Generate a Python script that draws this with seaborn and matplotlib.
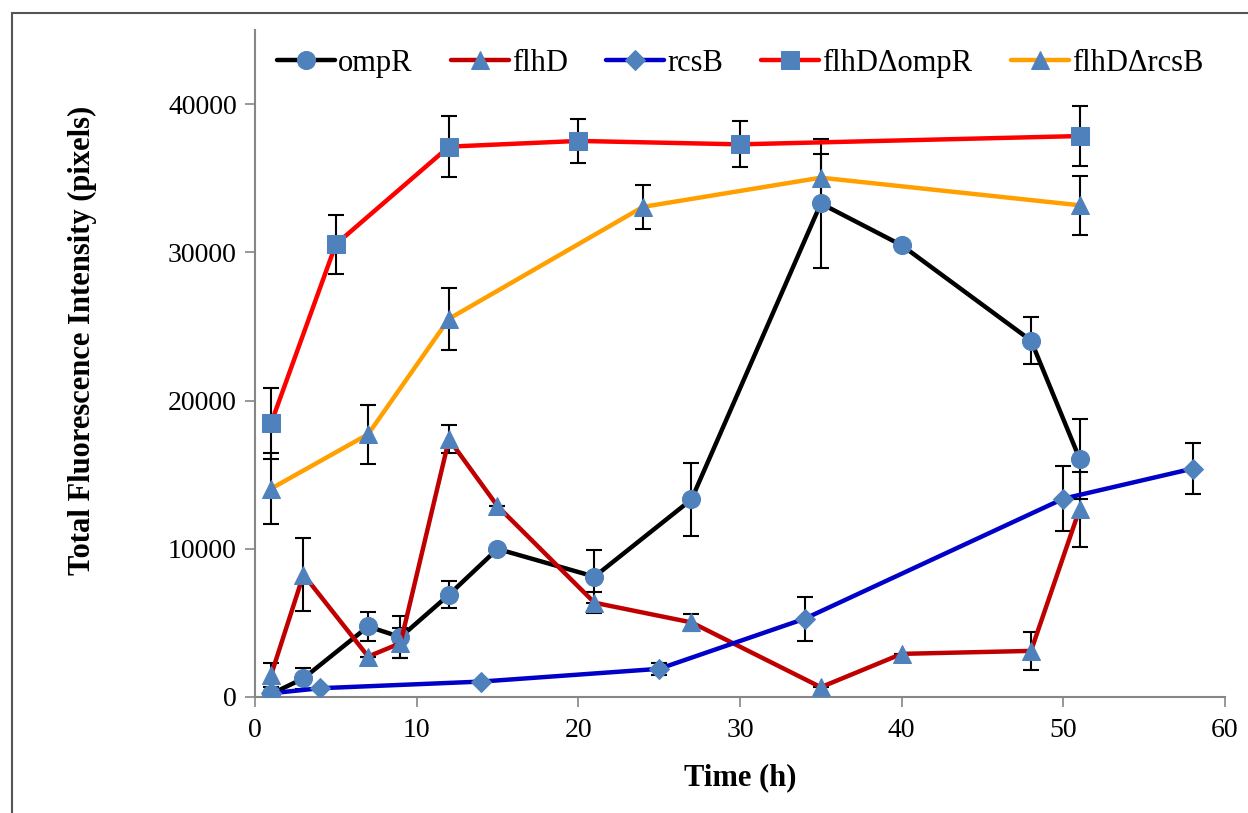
import matplotlib
matplotlib.use("Agg")
import matplotlib.pyplot as plt
import pandas as pd
import seaborn as sns
from matplotlib.patches import Rectangle

# valeurs
ompr_t = [1, 3, 7, 9, 12, 15, 21, 27, 35, 40, 48, 51]
ompr_y = [200, 1260, 4760, 4040, 6900, 9990, 8120, 13330, 33300, 30480, 24050, 16090]
ompr_err = [0, 700, 1000, 1400, 920, 0, 1800, 2480, 4330, 0, 1580, 2700]

flhd_t = [1, 3, 7, 9, 12, 15, 21, 27, 35, 40, 48, 51]
flhd_y = [1490, 8260, 2730, 3630, 17390, 12880, 6360, 5030, 660, 2910, 3110, 12660]
flhd_err = [800, 2440, 0, 1000, 950, 0, 700, 560, 0, 0, 1300, 2550]

rcsb_t = [1, 4, 14, 25, 34, 50, 58]
rcsb_y = [250, 590, 1040, 1900, 5280, 13380, 15410]
rcsb_err = [0, 0, 0, 400, 1500, 2200, 1700]

flhd_ompr_t = [1, 5, 12, 20, 30, 51]
flhd_ompr_y = [18480, 30545, 37135, 37520, 37290, 37850]
flhd_ompr_err = [2400, 2000, 2070, 1500, 1550, 2000]

flhd_rcsb_t = [1, 7, 12, 24, 35, 51]
flhd_rcsb_y = [14060, 17730, 25520, 33070, 35040, 33180]
flhd_rcsb_err = [2420, 2000, 2100, 1500, 1600, 2000]

series = [
    ("ompR", ompr_t, ompr_y, ompr_err, "#000000", "o"),
    ("flhD", flhd_t, flhd_y, flhd_err, "#C00000", "^"),
    ("rcsB", rcsb_t, rcsb_y, rcsb_err, "#0000C8", "D"),
    ("flhDΔompR", flhd_ompr_t, flhd_ompr_y, flhd_ompr_err, "#FF0000", "s"),
    ("flhDΔrcsB", flhd_rcsb_t, flhd_rcsb_y, flhd_rcsb_err, "#FFA000", "^"),
]

MARKER_COLOR = "#4F81BD"

sns.set_style("ticks")
plt.rcParams["font.family"] = ["Liberation Serif", "DejaVu Serif"]
plt.rcParams["text.color"] = "black"
plt.rcParams["axes.labelcolor"] = "black"

fig = plt.figure(figsize=(12.48, 8.13), dpi=100)
ax = fig.add_axes([0.2043, 0.1427, 0.7773, 0.8203])

for name, t, y, err, color, marker in series:
    ax.errorbar(t, y, yerr=err, fmt="none", ecolor="black", elinewidth=1.5,
                capsize=6, capthick=1.5, zorder=1)
    df = pd.DataFrame({"t": t, "y": y})
    msize = 13 if marker != "D" else 10
    sns.lineplot(data=df, x="t", y="y", ax=ax, color=color, linewidth=3.2,
                 marker=marker, markersize=msize, markerfacecolor=MARKER_COLOR,
                 markeredgecolor=MARKER_COLOR, label=name, zorder=3)

ax.set_xlim(0, 60)
ax.set_ylim(0, 45000)
ax.set_xticks(range(0, 61, 10))
ax.set_yticks(range(0, 40001, 10000))
ax.tick_params(axis="both", labelsize=20, length=7, width=1.2, color="#868686",
               labelcolor="black", direction="out")
ax.tick_params(axis="x", pad=8)
ax.tick_params(axis="y", pad=6)
for side in ["top", "right"]:
    ax.spines[side].set_visible(False)
for side in ["left", "bottom"]:
    ax.spines[side].set_color("#868686")
    ax.spines[side].set_linewidth(1.5)

ax.set_xlabel("Time (h)", fontsize=22, fontweight="bold")
ax.set_ylabel("Total Fluorescence Intensity (pixels)", fontsize=22,
              fontweight="bold")
ax.xaxis.set_label_coords(0.5, -0.1)
ax.yaxis.set_label_coords(-0.163, 0.535)

ax.legend(loc="upper center", bbox_to_anchor=(0.5, 1.013), ncol=5, frameon=False,
          fontsize=22, handlelength=1.9, handletextpad=0.1, columnspacing=1.25)

fig.patches.append(Rectangle((0.0096, -0.1), 1.2, 1.084, transform=fig.transFigure,
                             fill=False, edgecolor="#555555", linewidth=1.5))

fig.savefig("out.png", dpi=100)
